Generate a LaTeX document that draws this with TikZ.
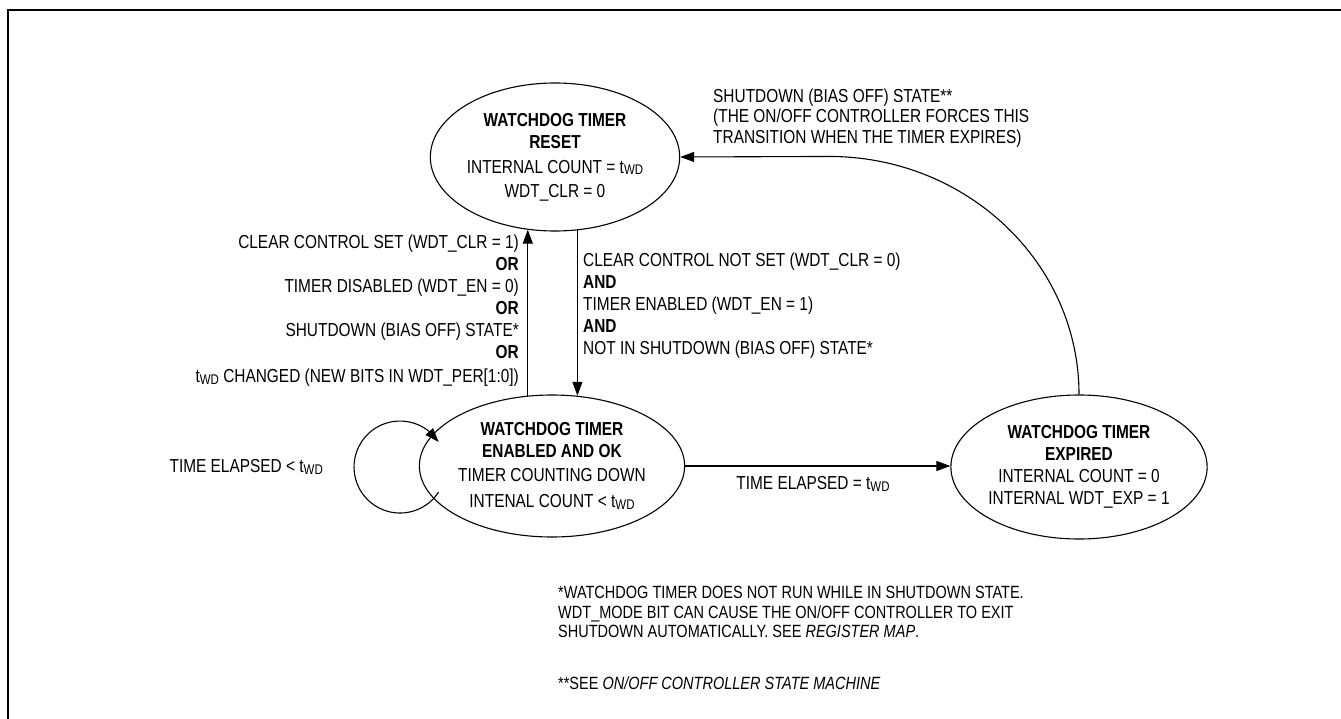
\documentclass[tikz,border=0pt]{standalone}
\usepackage{fontspec}
\setmainfont{Liberation Sans}[FakeStretch=0.82]
\usetikzlibrary{shapes.geometric,arrows.meta,bending}
\newcommand{\twd}{t{\fontsize{14}{14}\selectfont\raisebox{-1.3pt}{WD}}}
\newcommand{\mainsz}{\fontsize{18.8}{22}\selectfont}
\newcommand{\notesz}{\fontsize{17.7}{19.5}\selectfont}
\begin{document}
\begin{tikzpicture}[x=1pt,y=-1pt,
  state/.style={draw, ellipse, line width=1.1pt, inner sep=0pt, align=center, font=\mainsz},
  arr/.style={-{Triangle[length=14pt,width=10pt]}, line width=1.1pt},
  lbl/.style={inner sep=0pt, font=\mainsz}]
\useasboundingbox (0,0) rectangle (1341,719);
\draw[line width=2pt] (1342,10) -- (8,10) -- (8,720);

\node[state, minimum width=234pt, minimum height=148pt] (rst) at (555,157)
  {\textbf{WATCHDOG TIMER}\\ \textbf{RESET}\\[3pt] INTERNAL COUNT = \twd\\[2pt] WDT\_CLR = 0};
\node[state, minimum width=239pt, minimum height=142pt] (en) at (552,466)
  {\textbf{WATCHDOG TIMER}\\ \textbf{ENABLED AND OK}\\[2pt] TIMER COUNTING DOWN\\[4pt] INTENAL COUNT < \twd};
\node[state, minimum width=240pt, minimum height=144pt] (exp) at (1079,467)
  {\textbf{WATCHDOG TIMER}\\ \textbf{EXPIRED}\\ INTERNAL COUNT = 0\\ INTERNAL WDT\_EXP = 1};

\node[lbl, anchor=east, align=right] (lft) at (519,311)
  {CLEAR CONTROL SET (WDT\_CLR = 1)\\ \textbf{OR}\\ TIMER DISABLED (WDT\_EN = 0)\\ \textbf{OR}\\ SHUTDOWN (BIAS OFF) STATE*\\ \textbf{OR}\\[2pt] \twd{} CHANGED (NEW BITS IN WDT\_PER[1:0])};
\node[lbl, anchor=west, align=left] (rgt) at (583,306)
  {CLEAR CONTROL NOT SET (WDT\_CLR = 0)\\ \textbf{AND}\\ TIMER ENABLED (WDT\_EN = 1)\\ \textbf{AND}\\ NOT IN SHUTDOWN (BIAS OFF) STATE*};
\node[lbl, anchor=west, align=left, font=\fontsize{18.8}{20.5}\selectfont] (toplbl) at (713,118)
  {SHUTDOWN (BIAS OFF) STATE**\\ (THE ON/OFF CONTROLLER FORCES THIS\\ TRANSITION WHEN THE TIMER EXPIRES)};
\node[lbl, anchor=east] (looplbl) at (323,467) {TIME ELAPSED < \twd};
\node[lbl] (hlbl) at (813,484) {TIME ELAPSED = \twd};

\node[anchor=north west, align=left, inner sep=0pt, font=\notesz] (fn1) at (558,586)
  {*WATCHDOG TIMER DOES NOT RUN WHILE IN SHUTDOWN STATE.\\ WDT\_MODE BIT CAN CAUSE THE ON/OFF CONTROLLER TO EXIT\\ SHUTDOWN AUTOMATICALLY. SEE \textit{REGISTER MAP}.};
\node[anchor=west, inner sep=0pt, font=\notesz] (fn2) at (558,683)
  {**SEE \textit{ON/OFF CONTROLLER STATE MACHINE}};

\draw[arr] (en.109) -- (en.109 |- rst.249);
\draw[arr] (rst.287) -- (rst.287 |- en.70);
\draw[arr] (en.east) -- (en.east -| exp.west);
\draw[arr] (exp.north) arc[start angle=0, end angle=-90, x radius=250, y radius=238] -- (rst.east);
\coordinate (ls) at (438.6,492.1);
\draw[arr] (ls) arc[start angle=33, end angle=327, radius=46];
\end{tikzpicture}
\end{document}
